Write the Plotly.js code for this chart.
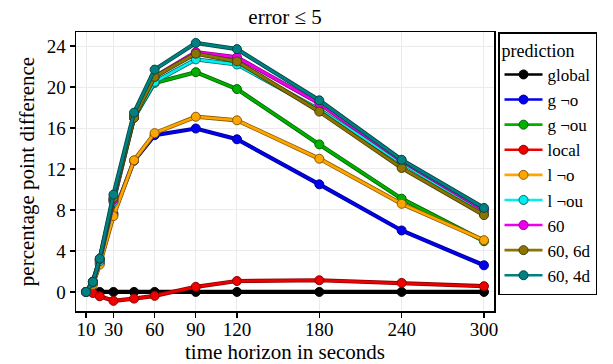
<!DOCTYPE html>
<html>
<head>
<meta charset="utf-8">
<script src="https://cdn.plot.ly/plotly-3.0.1.min.js"></script>
<style>
html,body{margin:0;padding:0;background:#fff;}
#chart{width:613px;height:364px;}
</style>
</head>
<body>
<div id="chart"></div>
<script>
const horizons = [10, 15, 20, 30, 45, 60, 90, 120, 180, 240, 300];
const seriesNames = ["global", "g ¬o", "g ¬ou", "local", "l ¬o", "l ¬ou", "60", "60, 6d", "60, 4d"];
const globalVals = [0, 0, 0, 0, 0, 0, 0, 0, 0, 0, 0];
const gNotO = [0, 0.8, 2.8, 7.6, 12.8, 15.3, 15.95, 14.9, 10.5, 6.0, 2.6];
const gNotOu = [0, 1.0, 3.0, 9.0, 17.0, 20.4, 21.45, 19.8, 14.4, 9.1, 4.95];
const localVals = [0, -0.1, -0.42, -0.87, -0.65, -0.38, 0.5, 1.07, 1.14, 0.88, 0.56];
const lNotO = [0, 0.7, 2.67, 7.4, 12.85, 15.5, 17.1, 16.75, 13.0, 8.6, 5.05];
const lNotOu = [0, 0.9, 3.0, 8.8, 17.0, 20.5, 22.7, 22.2, 17.8, 12.6, 7.7];
const s60 = [0, 1.0, 3.2, 9.0, 17.2, 21.0, 23.4, 22.9, 18.4, 12.8, 8.0];
const s60_6d = [0, 1.0, 3.2, 9.2, 17.0, 21.0, 23.25, 22.5, 17.6, 12.1, 7.5];
const s60_4d = [0, 0.98, 3.26, 9.5, 17.5, 21.7, 24.3, 23.7, 18.7, 12.9, 8.2];
const xTicks = [10, 30, 60, 90, 120, 180, 240, 300];
const yTicks = [0, 4, 8, 12, 16, 20, 24];

const allValues = [globalVals, gNotO, gNotOu, localVals, lNotO, lNotOu, s60, s60_6d, s60_4d];
const fillColors = ["#000000", "#0000ee", "#00b000", "#ee0000", "#ffa500", "#00eeee", "#ee00ee", "#8b7500", "#008080"];
const edgeColors = ["#000000", "#00008b", "#006400", "#8b0000", "#8b5a00", "#006b6b", "#8b008b", "#4a3e00", "#004545"];

const FONT = "Liberation Serif";
const traces = [];
allValues.forEach((vals, i) => {
  traces.push({
    x: horizons, y: vals, type: "scatter", mode: "lines",
    line: {color: edgeColors[i], width: 4.2}, showlegend: false, hoverinfo: "skip"
  });
  traces.push({
    x: horizons, y: vals, type: "scatter", mode: "lines+markers", name: seriesNames[i],
    line: {color: fillColors[i], width: 2.6},
    marker: {color: fillColors[i], size: 9, line: {color: edgeColors[i], width: 1}}
  });
});

const layout = {
  width: 613, height: 364,
  margin: {l: 76, r: 119, t: 32, b: 53},
  paper_bgcolor: "#ffffff", plot_bgcolor: "#ffffff",
  font: {family: FONT, color: "#000000", size: 18},
  title: {text: "error ≤ 5", x: 0.5, xref: "paper", xanchor: "center", y: 0.955, yref: "container", yanchor: "middle", font: {family: FONT, size: 21, color: "#000"}},
  xaxis: {
    range: [2.7, 307.3], tickvals: xTicks, ticktext: xTicks.map(String),
    showgrid: true, gridcolor: "#ebebeb", gridwidth: 1, zeroline: false,
    showline: true, linecolor: "#000", linewidth: 1.5, mirror: true,
    ticks: "outside", ticklen: 5, tickcolor: "#000", tickwidth: 1.2,
    ticklabelstandoff: -4,
    tickfont: {family: FONT, size: 19, color: "#000"},
    title: {text: "time horizon in seconds", font: {family: FONT, size: 21, color: "#000"}, standoff: 0}
  },
  yaxis: {
    range: [-1.86, 25.37], tickvals: yTicks, ticktext: yTicks.map(String),
    showgrid: true, gridcolor: "#ebebeb", gridwidth: 1, zeroline: false,
    showline: true, linecolor: "#000", linewidth: 1.5, mirror: true,
    ticks: "outside", ticklen: 5, tickcolor: "#000", tickwidth: 1.2,
    tickfont: {family: FONT, size: 19, color: "#000"},
    title: {text: "percentage point difference", font: {family: FONT, size: 21, color: "#000"}, standoff: 6}
  },
  legend: {
    x: 1.0096, xanchor: "left", y: 1, yanchor: "top",
    bordercolor: "#000", borderwidth: 1.5, bgcolor: "#fff",
    font: {family: FONT, size: 17, color: "#000"},
    title: {text: "prediction", font: {family: FONT, size: 18, color: "#000"}},
    tracegroupgap: 0, itemwidth: 38, entrywidth: 76, entrywidthmode: "pixels"
  }
};

Plotly.newPlot("chart", traces, layout, {displayModeBar: false, staticPlot: true});
</script>
</body>
</html>
